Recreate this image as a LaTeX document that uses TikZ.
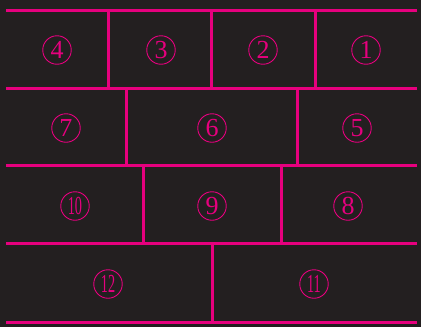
\documentclass[tikz,border=0pt]{standalone}
\usepackage{graphicx}
\usepackage{fontspec}
\newfontfamily\numfont{Liberation Serif}
\definecolor{bg}{HTML}{231F20}
\definecolor{mag}{HTML}{E6007E}
\tikzset{
  wall/.style={draw=mag, line width=3pt, line cap=butt},
  num/.style={circle, draw=mag, line width=0.9pt, text=mag, minimum size=28.5pt, inner sep=0pt,
    font=\numfont\fontsize{26}{26}\selectfont},
}
\newcommand{\twodig}[1]{\scalebox{0.55}[1]{#1}}
\begin{document}
\begin{tikzpicture}[x=1pt,y=-1pt]
\fill[bg] (0,0) rectangle (421,327);
\useasboundingbox (0,0) rectangle (421,327);
% horizontal lines
\coordinate (h0l) at (6,10);  \coordinate (h0r) at (417,10);
\coordinate (h1l) at (6,88);  \coordinate (h1r) at (417,88);
\coordinate (h2l) at (6,165); \coordinate (h2r) at (417,165);
\coordinate (h3l) at (6,243); \coordinate (h3r) at (417,243);
\coordinate (h4l) at (6,322); \coordinate (h4r) at (417,322);
\draw[wall] (h0l) -- (h0r);
\draw[wall] (h1l) -- (h1r);
\draw[wall] (h2l) -- (h2r);
\draw[wall] (h3l) -- (h3r);
\draw[wall] (h4l) -- (h4r);
% vertical joints
\draw[wall] (108,10) -- (108,88);
\draw[wall] (211.5,10) -- (211.5,88);
\draw[wall] (315,10) -- (315,88);
\draw[wall] (126,88) -- (126,165);
\draw[wall] (297.5,88) -- (297.5,165);
\draw[wall] (143,165) -- (143,243);
\draw[wall] (281,165) -- (281,243);
\draw[wall] (212,243) -- (212,322);
% numbers
\node[num] (n4) at (57,50) {4};
\node[num] (n3) at (161,50) {3};
\node[num] (n2) at (263,50) {2};
\node[num] (n1) at (366,50) {1};
\node[num] (n7) at (66,128) {7};
\node[num] (n6) at (212,128) {6};
\node[num] (n5) at (357,128) {5};
\node[num] (n10) at (75,206) {\twodig{10}};
\node[num] (n9) at (212,206) {9};
\node[num] (n8) at (348,206) {8};
\node[num] (n12) at (108,284) {\twodig{12}};
\node[num] (n11) at (314,284) {\twodig{11}};
\end{tikzpicture}
\end{document}
